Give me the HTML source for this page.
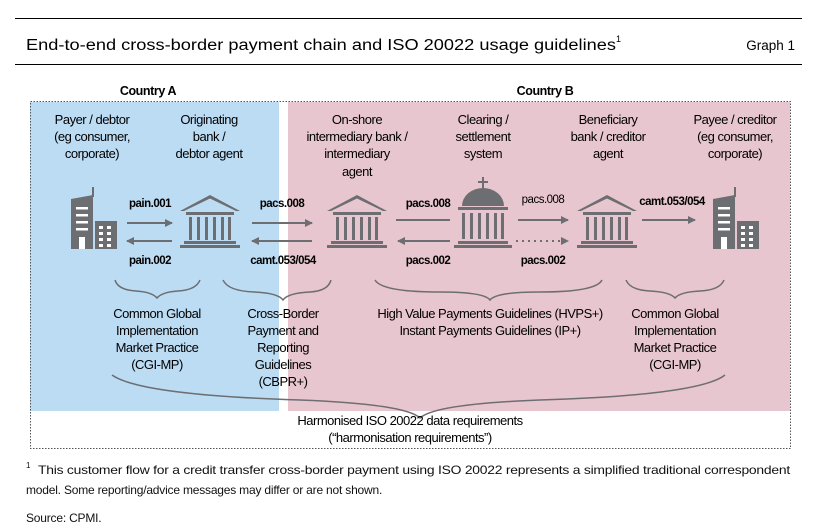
<!DOCTYPE html>
<html><head><meta charset="utf-8"><style>
body{margin:0;background:#fff;}
svg{display:block;font-family:"Liberation Sans",sans-serif;}
</style></head><body>
<svg width="827" height="531" viewBox="0 0 827 531" xmlns="http://www.w3.org/2000/svg">
<defs>
<marker id="ah" markerWidth="8" markerHeight="8" refX="7" refY="4" orient="auto" markerUnits="userSpaceOnUse"><path d="M0,0 L8,4 L0,8 z" fill="#6d6e71"/></marker>
<g id="bank" fill="#6d6e71">
<path d="M-30,-14 L0,-30 L30,-14 L26,-14 L0,-26.5 L-26,-14 z"/>
<rect x="-24" y="-13" width="48" height="3"/>
<rect x="-21" y="-8" width="3" height="23"/><rect x="-13" y="-8" width="3" height="23"/><rect x="-5" y="-8" width="3" height="23"/><rect x="3" y="-8" width="3" height="23"/><rect x="11" y="-8" width="3" height="23"/><rect x="18" y="-8" width="3" height="23"/>
<rect x="-26" y="16" width="52" height="3"/><rect x="-30" y="20" width="60" height="3"/>
</g>
<g id="bldg" fill="#6d6e71">
<rect x="-1" y="-38" width="2" height="10"/>
<path d="M-22,-26 L0,-30 L0,24 L-22,24 z"/>
<rect x="2" y="-4" width="22" height="28"/>
<g fill="#fff"><rect x="-17" y="-18" width="12" height="2.5"/><rect x="-17" y="-11" width="12" height="2.5"/><rect x="-17" y="-4" width="12" height="2.5"/><rect x="-17" y="3" width="12" height="2.5"/><rect x="-14" y="12" width="6" height="12"/>
<rect x="6" y="1" width="4" height="3"/><rect x="14" y="1" width="4" height="3"/><rect x="6" y="7" width="4" height="3"/><rect x="14" y="7" width="4" height="3"/><rect x="6" y="13" width="4" height="3"/><rect x="14" y="13" width="4" height="3"/><rect x="6" y="19" width="4" height="3"/><rect x="14" y="19" width="4" height="3"/></g>
</g>
</defs>
<line x1="15" y1="18.5" x2="802" y2="18.5" stroke="#000"/>
<line x1="15" y1="64.5" x2="802" y2="64.5" stroke="#000"/>
<text x="26" y="50" font-size="15.5" fill="#000" textLength="590" lengthAdjust="spacingAndGlyphs">End-to-end cross-border payment chain and ISO 20022 usage guidelines</text>
<text x="616" y="42" font-size="9">1</text>
<text x="795" y="50" font-size="13.5" text-anchor="end">Graph 1</text>

<rect x="30" y="102" width="249" height="309" fill="#bcdcf4"/>
<rect x="288" y="102" width="502" height="309" fill="#e8c6cf"/>
<rect x="30.5" y="101.5" width="760" height="347" fill="none" stroke="#555" stroke-dasharray="1.5,1.5"/>

<g font-size="12.5" text-anchor="middle" fill="#000" font-weight="bold" letter-spacing="-0.4">
<text x="148" y="95">Country A</text>
<text x="545" y="95">Country B</text>
</g>
<g font-size="13" text-anchor="middle" fill="#000" letter-spacing="-0.5">
<text x="92" y="124">Payer / debtor</text><text x="92" y="141">(eg consumer,</text><text x="92" y="158">corporate)</text>
<text x="209" y="124">Originating</text><text x="209" y="141">bank /</text><text x="209" y="158">debtor agent</text>
<text x="357" y="124">On-shore</text><text x="357" y="141">intermediary bank /</text><text x="357" y="158">intermediary</text><text x="357" y="176">agent</text>
<text x="483" y="124">Clearing /</text><text x="483" y="141">settlement</text><text x="483" y="158">system</text>
<text x="608" y="124">Beneficiary</text><text x="608" y="141">bank / creditor</text><text x="608" y="158">agent</text>
<text x="735" y="124">Payee / creditor</text><text x="735" y="141">(eg consumer,</text><text x="735" y="158">corporate)</text>
</g>

<use href="#bldg" x="93" y="225"/>
<use href="#bldg" x="735" y="225"/>
<use href="#bank" x="210" y="225"/>
<use href="#bank" x="357" y="225"/>
<use href="#bank" x="607" y="225"/>
<g fill="#6d6e71">
<rect x="482" y="177" width="2" height="12"/><rect x="478" y="181" width="10" height="2"/>
<path d="M462,206 A21,18 0 0 1 504,206 z"/>
<rect x="458" y="207" width="50" height="3"/>
<rect x="462" y="213" width="3" height="26"/><rect x="470" y="213" width="3" height="26"/><rect x="478" y="213" width="3" height="26"/><rect x="486" y="213" width="3" height="26"/><rect x="494" y="213" width="3" height="26"/><rect x="501" y="213" width="3" height="26"/>
<rect x="458" y="241" width="50" height="3"/><rect x="454" y="245" width="58" height="3"/>
</g>

<g stroke="#6d6e71" stroke-width="2" fill="none">
<line x1="127" y1="223" x2="172" y2="223" marker-end="url(#ah)"/>
<line x1="172" y1="241" x2="127" y2="241" marker-end="url(#ah)"/>
<line x1="252" y1="223" x2="312" y2="223" marker-end="url(#ah)"/>
<line x1="312" y1="241" x2="252" y2="241" marker-end="url(#ah)"/>
<line x1="396" y1="220" x2="450" y2="220"/>
<line x1="450" y1="241" x2="398" y2="241" marker-end="url(#ah)"/>
<line x1="518" y1="220" x2="568" y2="220" marker-end="url(#ah)"/>
<line x1="516" y1="241" x2="568" y2="241" stroke-dasharray="2,4" marker-end="url(#ah)"/>
<line x1="642" y1="220" x2="695" y2="220" marker-end="url(#ah)"/>
</g>
<g font-size="11.5" text-anchor="middle" fill="#000" font-weight="bold" letter-spacing="-0.5">
<text x="150" y="207">pain.001</text><text x="150" y="264">pain.002</text>
<text x="282" y="207">pacs.008</text><text x="283" y="264">camt.053/054</text>
<text x="428" y="207">pacs.008</text><text x="428" y="264">pacs.002</text>
<text x="543" y="203" font-weight="normal">pacs.008</text><text x="543" y="264">pacs.002</text>
<text x="672" y="205">camt.053/054</text>
</g>

<g stroke="#6d6e71" stroke-width="1.5" fill="none">
<path d="M115,280 Q118,290 136,291 Q152,292 157,298 Q162,292 178,291 Q196,290 200,280"/>
<path d="M223,280 Q228,291 254,292 Q278,293 283,300 Q288,293 310,292 Q328,291 331,280"/>
<path d="M375,280 Q382,292 440,292 Q484,292 490,300 Q496,292 540,292 Q596,292 602,280"/>
<path d="M626,280 Q630,290 650,291 Q670,292 675,298 Q680,292 700,291 Q720,290 724,280"/>
<path d="M112,375 Q140,395 300,400 Q405,404 420,418 Q435,404 540,400 Q700,395 725,375"/>
</g>
<g font-size="13" text-anchor="middle" fill="#000" letter-spacing="-0.5">
<text x="157" y="318">Common Global</text><text x="157" y="335">Implementation</text><text x="157" y="352">Market Practice</text><text x="157" y="369">(CGI-MP)</text>
<text x="283" y="318">Cross-Border</text><text x="283" y="335">Payment and</text><text x="283" y="352">Reporting</text><text x="283" y="369">Guidelines</text><text x="283" y="386">(CBPR+)</text>
<text x="490" y="318">High Value Payments Guidelines (HVPS+)</text><text x="490" y="335">Instant Payments Guidelines (IP+)</text>
<text x="675" y="318">Common Global</text><text x="675" y="335">Implementation</text><text x="675" y="352">Market Practice</text><text x="675" y="369">(CGI-MP)</text>
<text x="410" y="425">Harmonised ISO 20022 data requirements</text><text x="410" y="442">(“harmonisation requirements”)</text>
</g>

<g font-size="12" fill="#111" letter-spacing="-0.2">
<text x="26" y="468" font-size="8">1</text>
<text x="38" y="474" textLength="752" lengthAdjust="spacingAndGlyphs">This customer flow for a credit transfer cross-border payment using ISO 20022 represents a simplified traditional correspondent</text>
<text x="26" y="494">model. Some reporting/advice messages may differ or are not shown.</text>
<text x="26" y="522">Source: CPMI.</text>
</g>
</svg>
</body></html>
